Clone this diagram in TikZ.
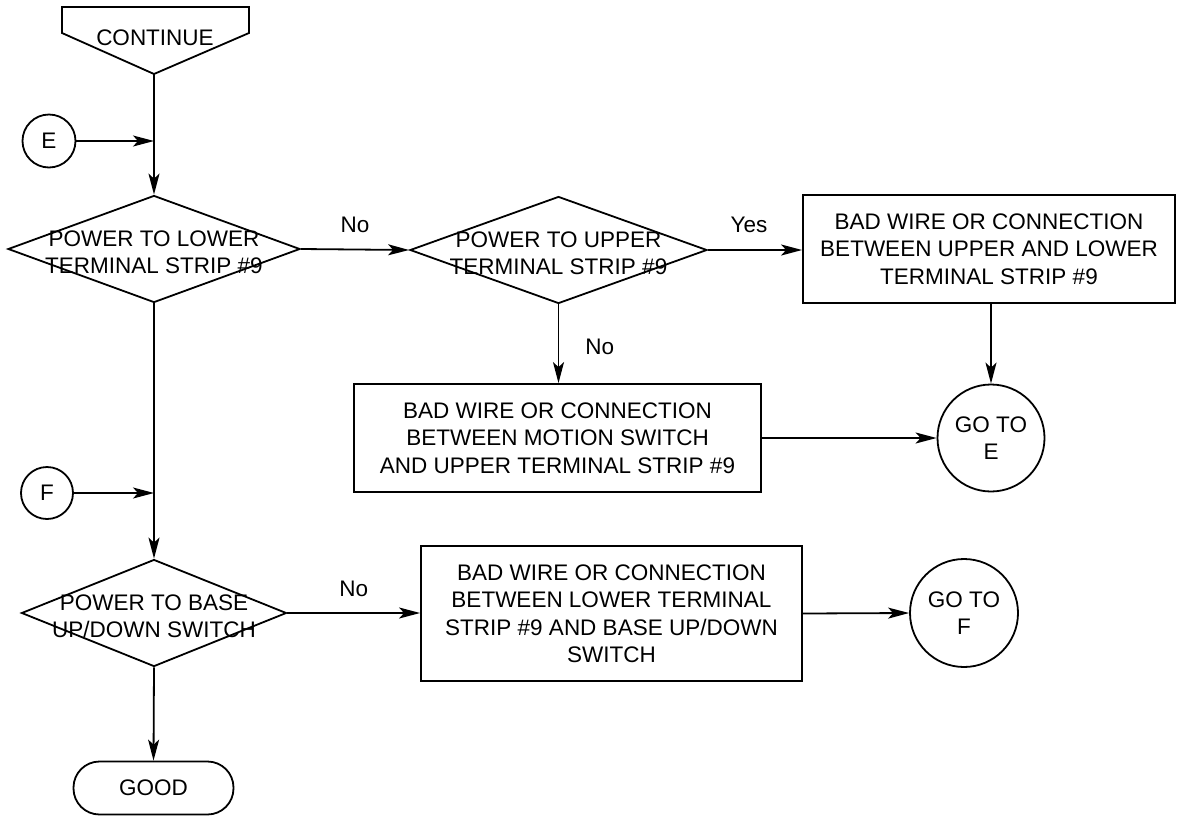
\documentclass[tikz,border=0pt]{standalone}
\usepackage{fontspec}
\setmainfont{Liberation Sans}
\usetikzlibrary{arrows.meta,shapes.geometric}
\begin{document}
\begin{tikzpicture}[x=1pt,y=-1pt,line width=1.8pt,
  arr/.style={-{Stealth[length=21pt,width=11pt,inset=5pt]}},
  txt/.style={font=\fontsize{22.5}{27.5}\selectfont,align=center,inner sep=0pt},
  diam/.style={draw,diamond,minimum width=#1,minimum height=107pt,inner sep=0pt},
  box/.style={draw,rectangle,txt},
  circ/.style={draw,circle,txt},
  lbl/.style={font=\fontsize{22.5}{27.5}\selectfont,inner sep=0pt}]
\useasboundingbox (0,0) rectangle (1177,817);

% CONTINUE off-page connector
\draw (62,7) -- (249,7) -- (249,33) -- (154,74) -- (62,33) -- cycle;
\node[txt] (cont) at (155,38) {CONTINUE};
\coordinate (contB) at (154,74);

% entry connectors
\node[circ,minimum size=53pt] (E) at (49,141) {E};
\node[circ,minimum size=52pt] (F) at (47,493) {F};
\coordinate (jE) at (154,141);
\coordinate (jF) at (154,493);

% decisions
\node[diam=292pt] (d1) at (154,249) {};
\node[txt,yshift=-3pt] (t1) at (d1) {POWER TO LOWER\\TERMINAL STRIP \#9};
\node[diam=297pt] (d2) at (558.5,250) {};
\node[txt,yshift=-3pt] (t2) at (d2) {POWER TO UPPER\\TERMINAL STRIP \#9};
\node[diam=265pt] (d3) at (154,613) {};
\node[txt,yshift=-3pt] (t3) at (d3) {POWER TO BASE\\UP/DOWN SWITCH};

% process boxes
\node[box,minimum width=372pt,minimum height=108pt] (b1) at (989,249)
  {BAD WIRE OR CONNECTION\\BETWEEN UPPER AND LOWER\\TERMINAL STRIP \#9};
\node[box,minimum width=407pt,minimum height=108pt] (b2) at (557.5,438)
  {BAD WIRE OR CONNECTION\\BETWEEN MOTION SWITCH\\AND UPPER TERMINAL STRIP \#9};
\node[box,minimum width=381pt,minimum height=135pt] (b3) at (611.5,613.5)
  {BAD WIRE OR CONNECTION\\BETWEEN LOWER TERMINAL\\STRIP \#9 AND BASE UP/DOWN\\SWITCH};

% go-to connectors
\node[circ,minimum size=107pt] (gE) at (991,438) {GO TO\\E};
\node[circ,minimum size=108pt] (gF) at (964,613) {GO TO\\F};

% terminal
\node[draw,rectangle,rounded corners=26pt,minimum width=160pt,minimum height=53pt,txt] (good) at (153.5,788) {GOOD};

% connectors
\draw[arr] (contB) -- (d1.north);
\draw[arr] (E) -- (jE);
\draw[arr] (F) -- (jF);
\draw[arr] (d1.south) -- (d3.north);
\draw[arr] (d1.east) -- node[lbl,above=16pt] {No} (d2.west);
\draw[arr] (d2.east) -- node[lbl,above=16pt,xshift=-6pt] {Yes} (d2.east -| b1.west);
\draw[arr] (d2.south) -- node[lbl,right=26pt,yshift=-3pt] {No} (d2.south |- b2.north);
\draw[arr] (gE.north |- b1.south) -- (gE.north);
\draw[arr] (b2.east) -- (gE.west);
\draw[arr] (d3.east) -- node[lbl,above=15pt] {No} (d3.east -| b3.west);
\draw[arr] (b3.east) -- (gF.west);
\draw[arr] (d3.south) -- (good.north);
\end{tikzpicture}
\end{document}
